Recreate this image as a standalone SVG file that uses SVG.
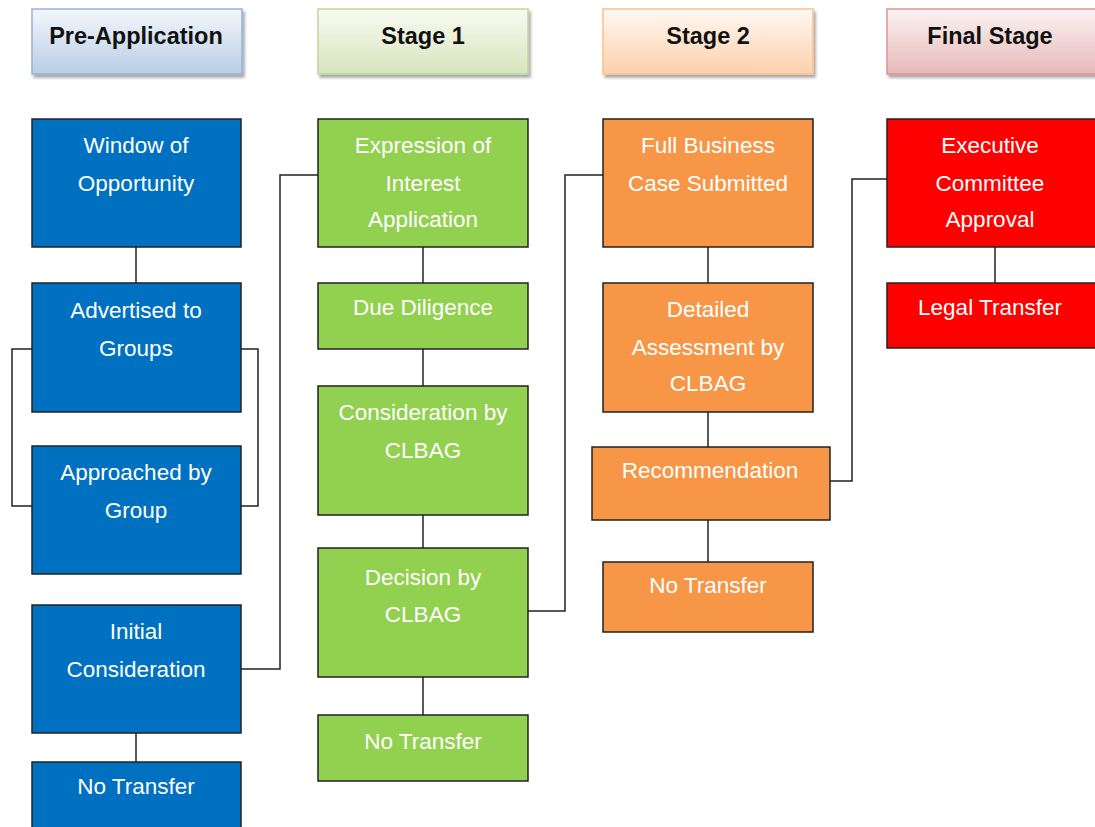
<svg xmlns="http://www.w3.org/2000/svg" width="1095" height="827" viewBox="0 0 1095 827">
<style>
.hdr{stroke-width:1.5}
.ht{font-family:"Liberation Sans",Arial,sans-serif;font-weight:bold;font-size:23.5px;fill:#111;text-anchor:middle}
.bx{stroke:#222;stroke-width:1.5}
.t{font-family:"Liberation Sans",Arial,sans-serif;font-size:22.5px;fill:#fff;text-anchor:middle}
.blue{fill:#0070C0}.green{fill:#92D050}.orange{fill:#F79646}.red{fill:#FF0000}
.c{fill:none;stroke:#222;stroke-width:1.5}
</style>
<defs>
<linearGradient id="gb" x1="0" y1="0" x2="0" y2="1"><stop offset="0" stop-color="#F3F7FC"/><stop offset="1" stop-color="#B9CDE5"/></linearGradient>
<linearGradient id="gg" x1="0" y1="0" x2="0" y2="1"><stop offset="0" stop-color="#F8FBF1"/><stop offset="1" stop-color="#D7E4BD"/></linearGradient>
<linearGradient id="go" x1="0" y1="0" x2="0" y2="1"><stop offset="0" stop-color="#FFF8F2"/><stop offset="1" stop-color="#FCD0AC"/></linearGradient>
<linearGradient id="gr" x1="0" y1="0" x2="0" y2="1"><stop offset="0" stop-color="#FCF3F3"/><stop offset="1" stop-color="#E6B9B8"/></linearGradient>
<filter id="sh" x="-5%" y="-5%" width="115%" height="125%"><feDropShadow dx="2" dy="3" stdDeviation="1.5" flood-color="#000" flood-opacity="0.35"/></filter>
</defs>
<rect width="1095" height="827" fill="#fff"/>

<g id="connectors">
<line class="c" x1="136" y1="247" x2="136" y2="283"/>
<polyline class="c" points="32,349 12,349 12,506 32,506"/>
<polyline class="c" points="241,349 258,349 258,506 241,506"/>
<line class="c" x1="136" y1="733" x2="136" y2="762"/>
<polyline class="c" points="241,669 280,669 280,175 318,175"/>
<line class="c" x1="423" y1="247" x2="423" y2="283"/>
<line class="c" x1="423" y1="349" x2="423" y2="386"/>
<line class="c" x1="423" y1="515" x2="423" y2="548"/>
<line class="c" x1="423" y1="677" x2="423" y2="715"/>
<polyline class="c" points="528,611 565,611 565,175 603,175"/>
<line class="c" x1="708" y1="247" x2="708" y2="283"/>
<line class="c" x1="708" y1="412" x2="708" y2="447"/>
<line class="c" x1="708" y1="520" x2="708" y2="562"/>
<polyline class="c" points="830,481 852,481 852,179 887,179"/>
<line class="c" x1="995" y1="247" x2="995" y2="283"/>
</g>

<g id="h-pre"><rect class="hdr" x="32" y="9" width="210" height="65" fill="url(#gb)" stroke="#95B3D7" filter="url(#sh)"/><text class="ht" x="136" y="44">Pre-Application</text></g>
<g id="h-s1"><rect class="hdr" x="318" y="9" width="210" height="65" fill="url(#gg)" stroke="#C3D69B" filter="url(#sh)"/><text class="ht" x="423" y="44">Stage 1</text></g>
<g id="h-s2"><rect class="hdr" x="603" y="9" width="210" height="65" fill="url(#go)" stroke="#FAC090" filter="url(#sh)"/><text class="ht" x="708" y="44">Stage 2</text></g>
<g id="h-final"><rect class="hdr" x="887" y="9" width="215" height="65" fill="url(#gr)" stroke="#D99694" filter="url(#sh)"/><text class="ht" x="990" y="44">Final Stage</text></g>

<g id="n-window"><rect class="bx blue" x="32" y="119" width="209" height="128"/><text class="t" x="136" y="153">Window of</text><text class="t" x="136" y="191">Opportunity</text></g>
<g id="n-advertised"><rect class="bx blue" x="32" y="283" width="209" height="129"/><text class="t" x="136" y="318">Advertised to</text><text class="t" x="136" y="356">Groups</text></g>
<g id="n-approached"><rect class="bx blue" x="32" y="446" width="209" height="128"/><text class="t" x="136" y="480">Approached by</text><text class="t" x="136" y="518">Group</text></g>
<g id="n-initial"><rect class="bx blue" x="32" y="605" width="209" height="128"/><text class="t" x="136" y="639">Initial</text><text class="t" x="136" y="677">Consideration</text></g>
<g id="n-notransfer1"><rect class="bx blue" x="32" y="762" width="209" height="80"/><text class="t" x="136" y="794">No Transfer</text></g>

<g id="n-eoi"><rect class="bx green" x="318" y="119" width="210" height="128"/><text class="t" x="423" y="153">Expression of</text><text class="t" x="423" y="191">Interest</text><text class="t" x="423" y="227">Application</text></g>
<g id="n-due"><rect class="bx green" x="318" y="283" width="210" height="66"/><text class="t" x="423" y="315">Due Diligence</text></g>
<g id="n-consid"><rect class="bx green" x="318" y="386" width="210" height="129"/><text class="t" x="423" y="420">Consideration by</text><text class="t" x="423" y="458">CLBAG</text></g>
<g id="n-decision"><rect class="bx green" x="318" y="548" width="210" height="129"/><text class="t" x="423" y="585">Decision by</text><text class="t" x="423" y="622">CLBAG</text></g>
<g id="n-notransfer2"><rect class="bx green" x="318" y="715" width="210" height="66"/><text class="t" x="423" y="749">No Transfer</text></g>

<g id="n-fbc"><rect class="bx orange" x="603" y="119" width="210" height="128"/><text class="t" x="708" y="153">Full Business</text><text class="t" x="708" y="191">Case Submitted</text></g>
<g id="n-detailed"><rect class="bx orange" x="603" y="283" width="210" height="129"/><text class="t" x="708" y="317">Detailed</text><text class="t" x="708" y="355">Assessment by</text><text class="t" x="708" y="391">CLBAG</text></g>
<g id="n-recommend"><rect class="bx orange" x="592" y="447" width="238" height="73"/><text class="t" x="710" y="478">Recommendation</text></g>
<g id="n-notransfer3"><rect class="bx orange" x="603" y="562" width="210" height="70"/><text class="t" x="708" y="593">No Transfer</text></g>

<g id="n-exec"><rect class="bx red" x="887" y="119" width="215" height="128"/><text class="t" x="990" y="153">Executive</text><text class="t" x="990" y="191">Committee</text><text class="t" x="990" y="227">Approval</text></g>
<g id="n-legal"><rect class="bx red" x="887" y="283" width="215" height="65"/><text class="t" x="990" y="315">Legal Transfer</text></g>
</svg>
